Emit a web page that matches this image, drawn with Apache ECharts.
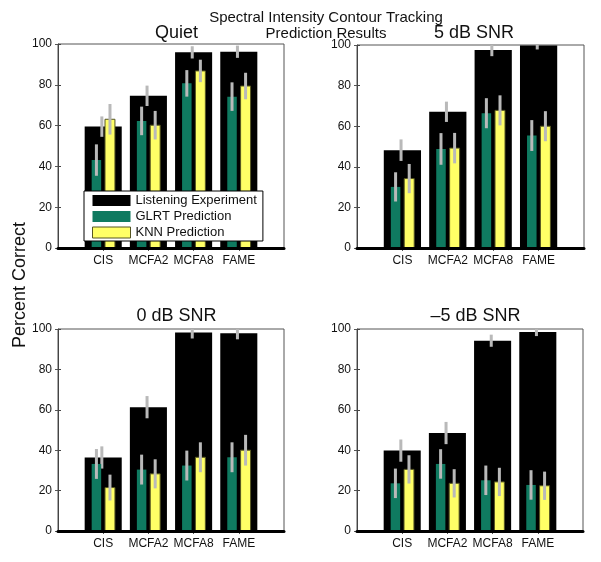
<!DOCTYPE html>
<html>
<head>
<meta charset="utf-8">
<script src="https://cdn.jsdelivr.net/npm/echarts@6/dist/echarts.min.js"></script>
<style>html,body{margin:0;padding:0;background:#fff}#c{width:601px;height:562px}</style>
</head>
<body>
<div id="c"></div>
<script>
// ---- data ----
const categories = ['CIS', 'MCFA2', 'MCFA8', 'FAME'];
const panelTitles = ['Quiet', '5 dB SNR', '0 dB SNR', '–5 dB SNR'];
const yTicks = [0, 20, 40, 60, 80, 100];
// one row per panel: Quiet, 5 dB, 0 dB, -5 dB
const listening    = [[59.5, 74.6, 95.9, 96.2], [48.2, 67.1, 97.5, 99.8], [36.4, 61.3, 98.3, 97.9], [39.8, 48.5, 94.2, 98.5]];
const glrt         = [[43.1, 62.3, 80.7, 74.2], [30.1, 48.8, 66.4, 55.4], [33.2, 30.4, 32.4, 36.5], [23.6, 33.2, 25.1, 22.8]];
const knn          = [[63.1, 60.2, 86.8, 79.4], [34.2, 49.2, 67.8, 60.0], [21.5, 28.3, 36.5, 40.0], [30.5, 23.6, 24.3, 22.4]];
const listeningErr = [[5.0, 5.0, 3.0, 3.0], [5.3, 5.0, 3.0, 2.0], [5.5, 5.5, 3.0, 3.0], [5.5, 5.5, 3.0, 2.0]];
const glrtErr      = [[7.7, 7.0, 6.5, 7.0], [7.2, 7.8, 7.4, 7.6], [7.4, 7.4, 7.4, 7.4], [7.3, 7.3, 7.3, 7.3]];
const knnErr       = [[7.5, 7.0, 5.5, 6.5], [7.2, 7.5, 7.4, 7.4], [6.4, 7.2, 7.4, 7.6], [7.0, 7.0, 7.0, 7.0]];
const seriesNames = ['Listening Experiment', 'GLRT Prediction', 'KNN Prediction'];

// ---- styling ----
const FONT = '"Liberation Sans", Arial, Helvetica, sans-serif';
const COL_BLACK = '#000000', COL_GREEN = '#0f7a60', COL_YELLOW = '#ffff66', COL_ERR = '#b9b9b9';
const grids = [
  {left: 58, top: 44, width: 226, height: 204},
  {left: 357, top: 45, width: 227, height: 203},
  {left: 58, top: 329, width: 226, height: 202},
  {left: 357, top: 329, width: 226, height: 202}
];
const titlePos = [[171.5, 19], [469, 19], [171.5, 302], [470.5, 302]];

const xAxes = [], yAxes = [], series = [];
const catPos = categories.map((c, k) => k + 1);

function barSeries(name, p, values, offset, width, fill, stroke) {
  return {
    type: 'custom', name, xAxisIndex: 2 * p, yAxisIndex: 2 * p, clip: true,
    itemStyle: {color: fill},
    encode: {x: 0, y: 1},
    data: values.map((v, k) => [catPos[k] + offset, v]),
    renderItem: function (params, api) {
      const x = api.value(0), y = api.value(1);
      const a = api.coord([x - width / 2, 0]);
      const b = api.coord([x + width / 2, y]);
      return {type: 'rect', shape: {x: a[0], y: b[1], width: b[0] - a[0], height: a[1] - b[1]},
        style: {fill: fill, stroke: stroke || null, lineWidth: stroke ? 1 : 0}};
    }
  };
}
function errSeries(name, p, values, errs, offset) {
  return {
    type: 'custom', name: name + ' err', xAxisIndex: 2 * p, yAxisIndex: 2 * p, clip: true,
    encode: {x: 0, y: [1, 2]},
    data: values.map((v, k) => [catPos[k] + offset, v - errs[k], v + errs[k]]),
    renderItem: function (params, api) {
      const x = api.value(0);
      const lo = api.coord([x, api.value(1)]);
      const hi = api.coord([x, api.value(2)]);
      return {type: 'line', shape: {x1: lo[0], y1: lo[1], x2: hi[0], y2: hi[1]},
        style: {stroke: COL_ERR, lineWidth: 3}};
    }
  };
}

grids.forEach((g, p) => {
  xAxes.push({
    gridIndex: p, type: 'value', min: 0, max: 5, z: 3,
    axisLine: {show: true, onZero: false, lineStyle: {color: '#000', width: 3}},
    axisTick: {show: false},
    axisLabel: {customValues: catPos, formatter: v => categories[Math.round(v) - 1] || '',
      fontSize: 12, color: '#111', fontFamily: FONT, margin: 7},
    splitLine: {show: false}
  });
  xAxes.push({
    gridIndex: p, type: 'value', min: 0, max: 5, position: 'top',
    axisLine: {show: false},
    axisTick: {show: true, inside: true, length: 3, customValues: catPos, lineStyle: {color: '#555'}},
    axisLabel: {show: false}, splitLine: {show: false}
  });
  yAxes.push({
    gridIndex: p, type: 'value', min: 0, max: 100, interval: 20,
    axisLine: {show: true, lineStyle: {color: '#444', width: 1}},
    axisTick: {show: true, inside: true, length: 3, lineStyle: {color: '#444'}},
    axisLabel: {customValues: yTicks, fontSize: 12, color: '#111', fontFamily: FONT, margin: 6},
    splitLine: {show: false}
  });
  yAxes.push({
    gridIndex: p, type: 'value', min: 0, max: 100, interval: 20, position: 'right',
    axisLine: {show: false},
    axisTick: {show: true, inside: true, length: 3, lineStyle: {color: '#555'}},
    axisLabel: {show: false}, splitLine: {show: false}
  });
  series.push(barSeries(seriesNames[0], p, listening[p], 0, 0.82, COL_BLACK));
  series.push(errSeries(seriesNames[0], p, listening[p], listeningErr[p], -0.03));
  series.push(barSeries(seriesNames[1], p, glrt[p], -0.15, 0.21, COL_GREEN));
  series.push(errSeries(seriesNames[1], p, glrt[p], glrtErr[p], -0.15));
  series.push(barSeries(seriesNames[2], p, knn[p], 0.15, 0.22, COL_YELLOW, '#555522'));
  series.push(errSeries(seriesNames[2], p, knn[p], knnErr[p], 0.15));
});

const titles = [{
  text: 'Spectral Intensity Contour Tracking\nPrediction Results', left: 321, top: 5, textAlign: 'center',
  textStyle: {fontSize: 15, fontWeight: 'normal', color: '#111', fontFamily: FONT, lineHeight: 16}
}];
panelTitles.forEach((t, p) => titles.push({
  text: t, left: titlePos[p][0], top: titlePos[p][1], textAlign: 'center',
  textStyle: {fontSize: 18, fontWeight: 'normal', color: '#111', fontFamily: FONT}
}));

const chart = echarts.init(document.getElementById('c'), null, {renderer: 'canvas'});
chart.setOption({
  animation: false,
  backgroundColor: '#fff',
  title: titles,
  grid: grids.map(g => Object.assign({show: true, borderColor: '#555', borderWidth: 1, backgroundColor: 'transparent'}, g)),
  xAxis: xAxes,
  yAxis: yAxes,
  legend: {
    orient: 'vertical', left: 84, top: 191, selectedMode: false,
    backgroundColor: '#fff', borderColor: '#000', borderWidth: 1,
    padding: [3, 6, 2, 8], itemGap: 3, itemWidth: 38, itemHeight: 11,
    textStyle: {fontSize: 13, color: '#111', fontFamily: FONT},
    data: [
      {name: seriesNames[0], icon: 'rect', itemStyle: {color: COL_BLACK}},
      {name: seriesNames[1], icon: 'rect', itemStyle: {color: COL_GREEN}},
      {name: seriesNames[2], icon: 'rect', itemStyle: {color: COL_YELLOW, borderColor: '#555522', borderWidth: 1}}
    ]
  },
  graphic: [{
    type: 'text', x: 20, y: 285, rotation: Math.PI / 2,
    style: {text: 'Percent Correct', fontSize: 18, fill: '#111', fontFamily: FONT, align: 'center', verticalAlign: 'middle'}
  }],
  series: series
});
</script>
</body>
</html>
